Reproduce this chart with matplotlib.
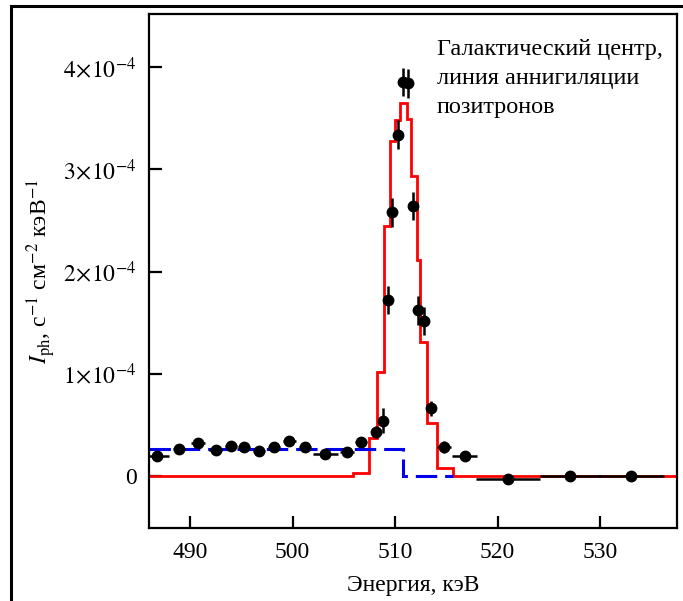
import numpy as np
import matplotlib
matplotlib.use("Agg")
import matplotlib.pyplot as plt
from matplotlib.lines import Line2D

plt.rcParams['font.family'] = ['Liberation Serif', 'DejaVu Serif']
plt.rcParams['mathtext.fontset'] = 'stix'

# measured points (energy keV, intensity in 1e-4)
energy = [486.75, 488.96, 490.8, 492.5, 494.0, 495.3, 496.7, 498.2, 499.7, 501.2,
          503.2, 505.3, 506.7, 508.1, 508.8, 509.29, 509.68, 510.26, 510.75, 511.3,
          511.73, 512.2, 512.8, 513.5, 514.8, 516.8, 521.0, 527.1, 533.0]
flux = [0.19, 0.26, 0.325, 0.25, 0.296, 0.28, 0.247, 0.28, 0.345, 0.287,
        0.215, 0.235, 0.335, 0.43, 0.54, 1.72, 2.58, 3.34, 3.855, 3.84,
        2.64, 1.62, 1.515, 0.66, 0.28, 0.19, -0.03, -0.005, 0.0]
e_err = [1.2, 0.6, 0.7, 0.6, 0.6, 0.6, 0.6, 0.6, 0.6, 0.6,
         1.2, 0.65, 0.6, 0.4, 0.3, 0.25, 0.25, 0.25, 0.25, 0.25,
         0.25, 0.25, 0.25, 0.3, 0.7, 1.2, 3.1, 3.0, 3.2]
f_err = [0.045, 0.045, 0.045, 0.045, 0.045, 0.045, 0.045, 0.045, 0.045, 0.045,
         0.04, 0.045, 0.05, 0.06, 0.12, 0.14, 0.14, 0.14, 0.14, 0.14,
         0.14, 0.14, 0.14, 0.07, 0.06, 0.02, 0.02, 0.02, 0.02]

# model line (red histogram)
line_edges = [486.0, 505.87, 507.49, 508.27, 508.96, 509.51, 510.0, 510.49, 511.14,
              511.53, 512.18, 512.44, 513.15, 514.07, 515.69, 537.5]
line_vals = [0.0, 0.03, 0.37, 1.02, 2.45, 3.28, 3.48, 3.65, 3.49,
             2.93, 2.11, 1.31, 0.52, 0.075, 0.0]

# continuum (blue dashed)
cont_edges = [486.0, 510.8, 515.7]
cont_vals = [0.26, 0.0]

scale = 1e-4

fig = plt.figure(figsize=(6.83, 6.01), dpi=100)
ax = fig.add_axes([149/683, 73/601, 528/683, 514/601])

ax.stairs(np.array(line_vals)*scale, line_edges, baseline=None, color='red',
          lw=2.0, zorder=2)
ax.stairs(np.array(cont_vals)*scale, cont_edges, baseline=None, color='#0000ee',
          lw=2.2, ls=(0, (7, 2.6)), zorder=2)
ax.errorbar(energy, np.array(flux)*scale, xerr=e_err, yerr=np.array(f_err)*scale,
            fmt='o', color='k', ms=7.5, elinewidth=1.8, capsize=0, zorder=3)

ax.set_xlim(486.0, 537.5)
ax.set_ylim(-0.51e-4, 4.52e-4)
ax.set_xticks([490, 500, 510, 520, 530])
ax.set_yticks([0, 1e-4, 2e-4, 3e-4, 4e-4])
ax.set_yticklabels(['0', r'$1\!\times\!10^{-4}$', r'$2\!\times\!10^{-4}$',
                    r'$3\!\times\!10^{-4}$', r'$4\!\times\!10^{-4}$'])
ax.tick_params(direction='in', length=9, width=1.6, labelsize=17, pad=9)
ax.tick_params(axis='x', pad=10)
for s in ax.spines.values():
    s.set_linewidth(1.6)

ax.set_xlabel('Энергия, кэВ', fontsize=17, labelpad=9)
ax.set_ylabel(r'$I_{\rm ph}$, с$^{-1}$ см$^{-2}$ кэВ$^{-1}$', fontsize=17, labelpad=4)

ax.text(0.545, 0.952, 'Галактический центр,\nлиния аннигиляции\nпозитронов',
        transform=ax.transAxes, fontsize=17.5, va='top', ha='left', linespacing=1.5)

# outer frame (top and left edges)
fig.add_artist(Line2D([11/683, 1], [1-6/601, 1-6/601], color='k', lw=2.2,
                      transform=fig.transFigure))
fig.add_artist(Line2D([11/683, 11/683], [0, 1-6/601], color='k', lw=2.2,
                      transform=fig.transFigure))

fig.savefig('out.png', dpi=100)
